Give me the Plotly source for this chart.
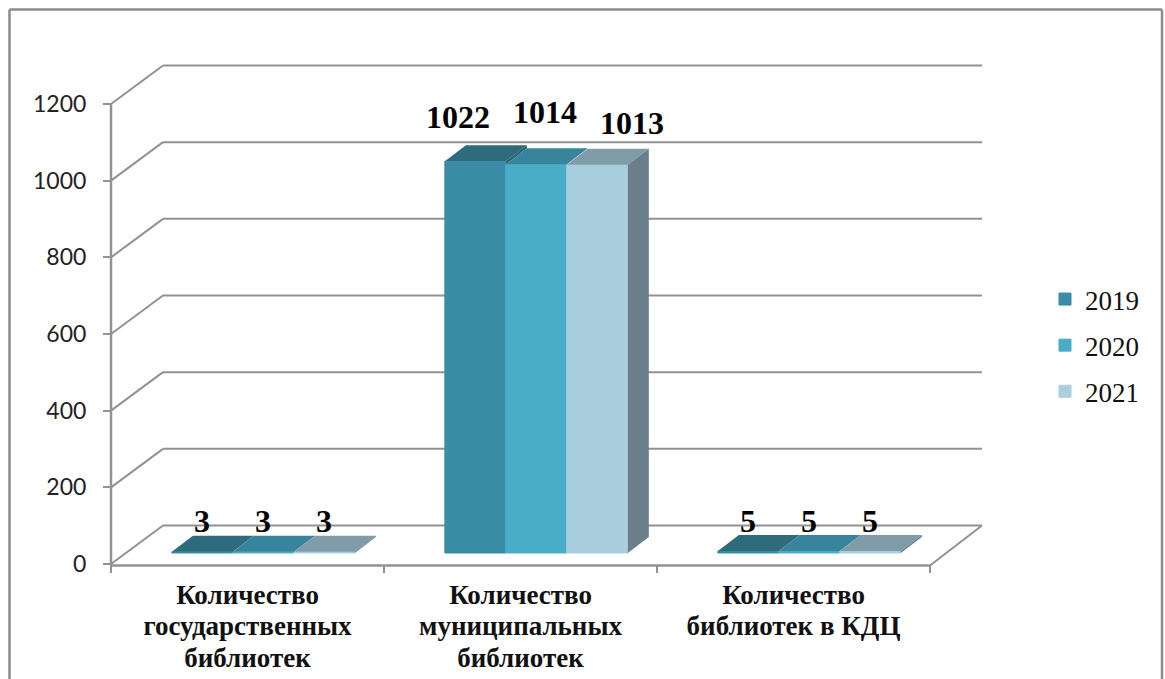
import plotly.graph_objects as go

category_lines = [["Количество", "государственных", "библиотек"],
                  ["Количество", "муниципальных", "библиотек"],
                  ["Количество", "библиотек в КДЦ"]]
years = ["2019", "2020", "2021"]
values_2019 = [3, 1022, 5]
values_2020 = [3, 1014, 5]
values_2021 = [3, 1013, 5]
series = [values_2019, values_2020, values_2021]
y_ticks = [0, 200, 400, 600, 800, 1000, 1200]

front_colors = ["#3B8CA6", "#4AADC8", "#A9CEDE"]
top_colors = ["#2E6B7C", "#37849C", "#7F9CA8"]
side_colors = ["#285F6F", "#2F7488", "#6A7F8B"]
grid_color = "#929292"

W, H = 1165, 679
AX_L, AX_0 = 111, 564      # pixel of category 0 and value 0
PX_CAT, PX_VAL = 273, 0.38333  # pixels per category / per value unit
n = len(years)

WALL_DX, WALL_DV = 52 / PX_CAT, 38.5 / PX_VAL    # full floor depth
BAR_DX0, BAR_DV0 = 15 / PX_CAT, 11 / PX_VAL      # bar front plane offset
BAR_DX, BAR_DV = 21 / PX_CAT, 16 / PX_VAL        # bar depth
BAR_W = 0.2234
GAP = 0.168
AXIS_DROP = 1.5 / PX_VAL

# hand-placed label offsets in pixels, by series then category
label_dx = [[0, -17, 0], [0, 9, 0], [0, 35, 0]]
label_dy = [[31, 44, 30], [31, 52, 30], [31, 42, 30]]

fig = go.Figure()

for s, (year, vals) in enumerate(zip(years, series)):
    xs = [c + GAP + BAR_DX0 + BAR_W * (s + 0.5) for c in range(n)]
    fig.add_trace(go.Bar(
        x=xs, y=vals, base=[BAR_DV0] * n, width=BAR_W, name=year,
        legendgroup=year, marker=dict(color=front_colors[s], line=dict(width=1, color=front_colors[s])),
        hoverinfo="skip"))

for c in range(n):
    for s, vals in enumerate(series):
        v = vals[c]
        x0 = c + GAP + BAR_DX0 + BAR_W * s
        x1 = x0 + BAR_W
        y1 = BAR_DV0 + v
        fig.add_trace(go.Scatter(
            x=[x0, x1, x1 + BAR_DX, x0 + BAR_DX, x0],
            y=[y1, y1, y1 + BAR_DV, y1 + BAR_DV, y1],
            mode="lines", fill="toself", fillcolor=top_colors[s],
            line=dict(width=0), showlegend=False, hoverinfo="skip"))
        # side face: only what rises above the neighbouring bar is visible
        low = BAR_DV0 + series[s + 1][c] if s + 1 < len(series) else BAR_DV0
        fig.add_trace(go.Scatter(
            x=[x1, x1 + BAR_DX, x1 + BAR_DX, x1, x1],
            y=[low, low + BAR_DV, y1 + BAR_DV, y1, low],
            mode="lines", fill="toself", fillcolor=side_colors[s],
            line=dict(width=0), showlegend=False, hoverinfo="skip"))
        fig.add_annotation(
            x=x0 + BAR_W / 2, y=y1, text=f"<b>{v}</b>", showarrow=False,
            xshift=label_dx[s][c], yshift=label_dy[s][c], yanchor="middle",
            font=dict(family="Liberation Serif", size=32, color="#000000"))

shapes = []
def seg(x0, y0, x1, y1, w=2):
    shapes.append(dict(type="line", xref="x", yref="y", x0=x0, y0=y0, x1=x1, y1=y1,
                       line=dict(color=grid_color, width=w), layer="below"))

for v in y_ticks:
    seg(0, v, WALL_DX, v + WALL_DV)
    seg(WALL_DX, v + WALL_DV, n + WALL_DX, v + WALL_DV)
seg(0, -AXIS_DROP, 0, y_ticks[-1], 2.5)
seg(0, -AXIS_DROP, n, -AXIS_DROP, 2.5)
seg(n, -AXIS_DROP, n + WALL_DX, WALL_DV)

# outer frame of the picture
frame = dict(color="#8C8C8C", width=2.5)
for x0, y0, x1, y1 in [(9.5, 9.5, 1162, 9.5), (9.5, 9.5, 9.5, H), (1162, 9.5, 1162, H)]:
    shapes.append(dict(type="line", xref="paper", yref="paper", x0=x0 / W, x1=x1 / W,
                       y0=1 - y0 / H, y1=1 - y1 / H, line=frame, layer="below"))

tick_text = ["<br>".join(f'<span style="font-size:27px"><b>{line}</b></span>' for line in lines)
             for lines in category_lines]

fig.update_layout(
    width=W, height=H, margin=dict(l=0, r=0, t=0, b=0, pad=0),
    paper_bgcolor="#FFFFFF", plot_bgcolor="#FFFFFF",
    barmode="overlay", shapes=shapes,
    xaxis=dict(range=[(0 - AX_L) / PX_CAT, (W - AX_L) / PX_CAT], anchor="free",
               position=1 - AX_0 / H, tickmode="array",
               tickvals=[c + 0.5 for c in range(n)], ticktext=tick_text,
               ticks="", showgrid=False, zeroline=False, showline=False, ticklabelstandoff=14,
               tickfont=dict(family="Liberation Serif", size=24.5, color="#111111"),
               minor=dict(tickmode="array", tickvals=list(range(n + 1)), ticks="outside", ticklen=8,
                          tickwidth=2, tickcolor=grid_color, showgrid=False)),
    yaxis=dict(range=[(AX_0 - H) / PX_VAL, AX_0 / PX_VAL], anchor="free", position=AX_L / W,
               tickmode="array", tickvals=y_ticks, ticks="outside", ticklen=8, tickwidth=2,
               tickcolor=grid_color, showgrid=False, zeroline=False, showline=False,
               ticklabelstandoff=12,
               tickfont=dict(family="Lato", size=23, color="#222222")),
    legend=dict(x=1053 / W, y=1 - 275 / H, xanchor="left", yanchor="top",
                font=dict(family="Liberation Serif", size=27, color="#111111"),
                tracegroupgap=8, bgcolor="rgba(0,0,0,0)", indentation=-8),
    showlegend=True,
)

fig.write_html("out.html", config=dict(displayModeBar=False),
               post_script="document.body.style.margin='0';document.body.style.overflow='hidden';")
